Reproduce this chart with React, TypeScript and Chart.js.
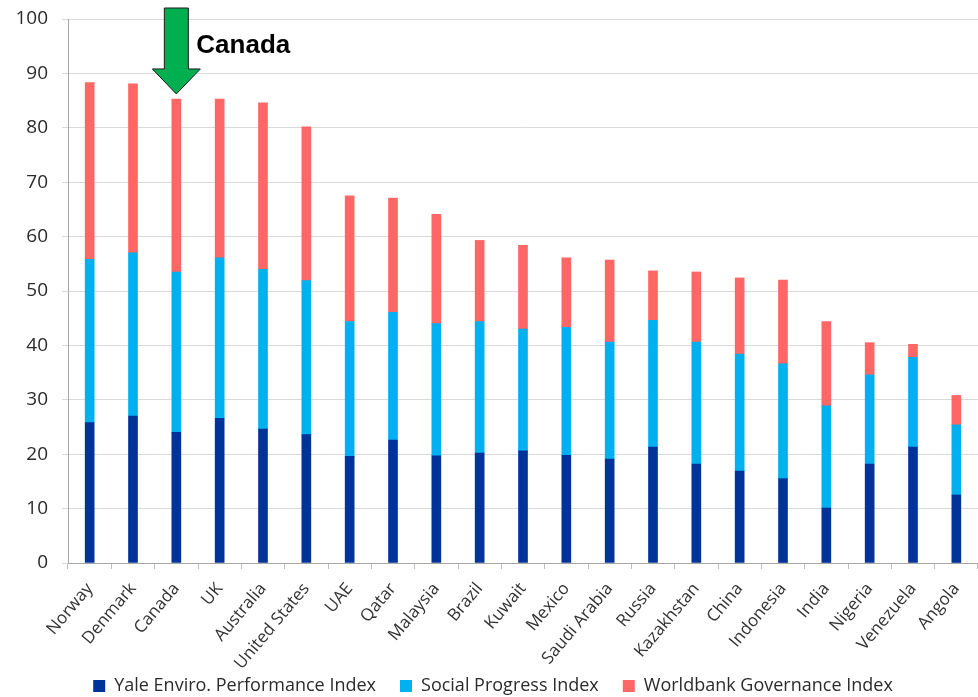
import React, { useEffect, useRef } from "react";
import { Chart, registerables } from "chart.js";

Chart.register(...registerables);

const countries = [
  "Norway", "Denmark", "Canada", "UK", "Australia", "United States", "UAE", "Qatar",
  "Malaysia", "Brazil", "Kuwait", "Mexico", "Saudi Arabia", "Russia", "Kazakhstan",
  "China", "Indonesia", "India", "Nigeria", "Venezuela", "Angola",
];

// Segment values (stacked)
const yaleEPI = [25.8, 27.0, 24.0, 26.6, 24.6, 23.6, 19.6, 22.6, 19.7, 20.2, 20.6, 19.8, 19.1, 21.3, 18.2, 16.9, 15.5, 10.1, 18.2, 21.3, 12.5];
const socialProgress = [30.0, 30.0, 29.5, 29.5, 29.4, 28.3, 24.8, 23.5, 24.3, 24.2, 22.4, 23.5, 21.5, 23.3, 22.4, 21.5, 21.1, 18.8, 16.4, 16.5, 12.9];
const worldbankGov = [32.5, 31.1, 31.8, 29.2, 30.6, 28.3, 23.1, 21.0, 20.1, 14.9, 15.4, 12.8, 15.1, 9.1, 12.9, 14.0, 15.4, 15.5, 5.9, 2.4, 5.4];

const yTicks = [0, 10, 20, 30, 40, 50, 60, 70, 80, 90, 100];
const highlightLabel = "Canada";

const arrowPlugin = {
  id: "canadaArrow",
  afterLayout(chart: any) {
    // let rotated x labels extend below the axis box without clipping
    chart.scales.x.bottom = chart.height;
  },
  afterDraw(chart: any) {
    const { ctx, scales } = chart;
    const idx = countries.indexOf(highlightLabel);
    const total = yaleEPI[idx] + socialProgress[idx] + worldbankGov[idx];
    const cx = scales.x.getPixelForValue(idx);
    const tip = scales.y.getPixelForValue(total) - 5;
    const top = 8;
    const headStart = tip - 25;
    ctx.save();
    ctx.beginPath();
    ctx.moveTo(cx - 12, top);
    ctx.lineTo(cx + 12, top);
    ctx.lineTo(cx + 12, headStart);
    ctx.lineTo(cx + 24, headStart);
    ctx.lineTo(cx, tip);
    ctx.lineTo(cx - 24, headStart);
    ctx.lineTo(cx - 12, headStart);
    ctx.closePath();
    ctx.fillStyle = "#00B050";
    ctx.fill();
    ctx.lineWidth = 1;
    ctx.strokeStyle = "#1a1a1a";
    ctx.stroke();
    ctx.fillStyle = "#000";
    ctx.font = "bold 26px 'Liberation Sans', Arial, sans-serif";
    ctx.textAlign = "left";
    ctx.textBaseline = "middle";
    ctx.fillText(highlightLabel, cx + 20, 46);
    ctx.restore();
  },
};

export default function App() {
  const ref = useRef<HTMLCanvasElement | null>(null);
  useEffect(() => {
    document.body.style.margin = "0";
    if (!ref.current) return;
    const chart = new Chart(ref.current, {
      type: "bar",
      data: {
        labels: countries,
        datasets: [
          { label: "Yale Enviro. Performance Index", data: yaleEPI, backgroundColor: "#003399" },
          { label: "Social Progress Index", data: socialProgress, backgroundColor: "#00B0F0" },
          { label: "Worldbank Governance Index", data: worldbankGov, backgroundColor: "#FF6666" },
        ],
      },
      options: {
        animation: false,
        responsive: false,
        maintainAspectRatio: false,
        layout: { padding: { top: 19, left: 8, right: 0, bottom: 0 } },
        datasets: { bar: { barThickness: 9 } },
        scales: {
          x: {
            stacked: true,
            grid: { offset: true, drawOnChartArea: false, drawTicks: true, tickLength: 6, color: "#bfbfbf" },
            border: { color: "#a6a6a6" },
            ticks: {
              autoSkip: false,
              minRotation: 50,
              maxRotation: 50,
              color: "#333",
              font: { family: "'Open Sans', sans-serif", size: 17 },
              padding: 10,
            },
            afterFit(scale: any) {
              scale.height = 90;
              scale.paddingLeft = 0;
              scale.paddingRight = 0;
            },
          },
          y: {
            stacked: true,
            min: 0,
            max: 100,
            afterBuildTicks(scale: any) {
              scale.ticks = yTicks.map((v) => ({ value: v }));
            },
            grid: { color: "#d9d9d9", tickLength: 6, drawTicks: true },
            border: { color: "#a6a6a6" },
            ticks: {
              color: "#2b2b2b",
              font: { family: "'Open Sans', sans-serif", size: 19 },
              padding: 14,
            },
            afterFit(scale: any) {
              scale.width = 60;
              scale.paddingTop = 0;
              scale.paddingBottom = 0;
            },
          },
        },
        plugins: {
          legend: {
            position: "bottom",
            labels: {
              boxWidth: 12,
              boxHeight: 12,
              padding: 24,
              color: "#2b2b2b",
              font: { family: "'Open Sans', sans-serif", size: 18 },
            },
          },
          tooltip: { enabled: false },
        },
      },
      plugins: [arrowPlugin],
    });
    return () => chart.destroy();
  }, []);
  return (
    <div style={{ width: 978, height: 697, overflow: "hidden" }}>
      <canvas ref={ref} width={978} height={705} style={{ display: "block" }} />
    </div>
  );
}
